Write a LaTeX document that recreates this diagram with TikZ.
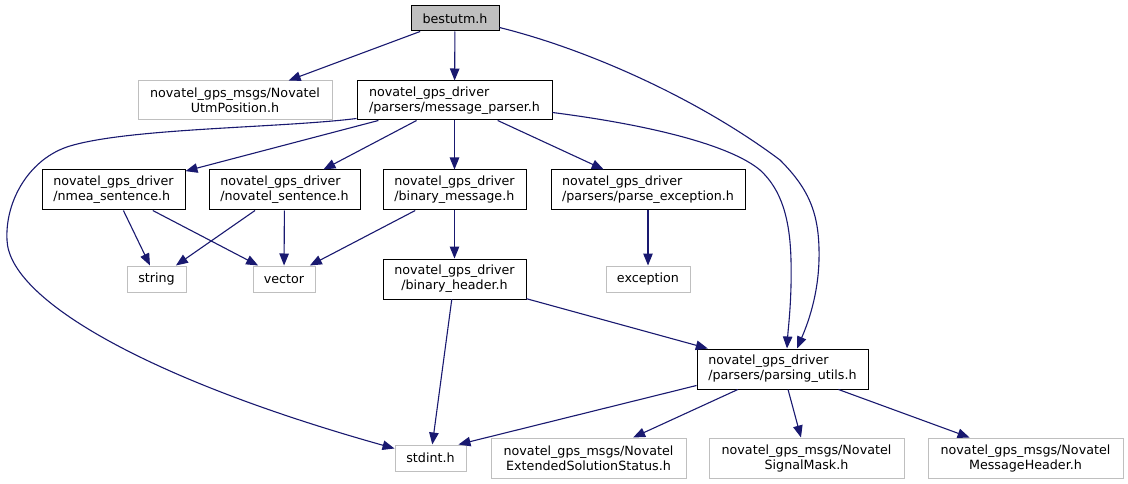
\documentclass[tikz,border=0pt]{standalone}
\usepackage{fontspec}
\setmainfont{DejaVu Sans}
\usetikzlibrary{arrows.meta,calc}
\definecolor{edgecol}{HTML}{191970}
\definecolor{graycol}{HTML}{BFBFBF}
\begin{document}
\begin{tikzpicture}[x=1pt,y=-1pt,
  every node/.style={font=\fontsize{12.7}{15}\selectfont, inner sep=0pt, line width=1pt},
  box/.style={draw=black, align=left},
  gbox/.style={draw=graycol, align=center},
  edge/.style={draw=edgecol, line width=1.1pt, -{Triangle[length=12pt,width=9.5pt]}, fill=none}]
\fill[white] (0,0) rectangle (1128,484);
\useasboundingbox (0,0) rectangle (1128,484);

\node[box, fill=graycol, minimum width=88pt, minimum height=25pt] (bestutm) at (455,18.5) {bestutm.h};
\node[gbox, minimum width=194pt, minimum height=39pt] (utm) at (235,100.5) {novatel\_gps\_msgs/Novatel\\UtmPosition.h};
\node[box, minimum width=195pt, minimum height=39pt] (mp) at (454.5,100.5) {novatel\_gps\_driver\\/parsers/message\_parser.h};
\node[box, minimum width=143pt, minimum height=40pt] (nmea) at (113.5,190) {novatel\_gps\_driver\\/nmea\_sentence.h};
\node[box, minimum width=151pt, minimum height=40pt] (novs) at (284.5,190) {novatel\_gps\_driver\\/novatel\_sentence.h};
\node[box, minimum width=143pt, minimum height=40pt] (binm) at (454.5,190) {novatel\_gps\_driver\\/binary\_message.h};
\node[box, minimum width=194pt, minimum height=40pt] (pexc) at (648,190) {novatel\_gps\_driver\\/parsers/parse\_exception.h};
\node[gbox, minimum width=59pt, minimum height=26pt] (string) at (156.5,279) {string};
\node[gbox, minimum width=62pt, minimum height=26pt] (vector) at (284,279) {vector};
\node[box, align=center, minimum width=143pt, minimum height=40pt] (binh) at (454.5,279) {novatel\_gps\_driver\\/binary\_header.h};
\node[gbox, minimum width=84pt, minimum height=26pt] (exc) at (648,279) {exception};
\node[box, minimum width=171pt, minimum height=40pt] (pu) at (782.5,369) {novatel\_gps\_driver\\/parsers/parsing\_utils.h};
\node[gbox, minimum width=71pt, minimum height=26pt] (stdint) at (430.5,458) {stdint.h};
\node[gbox, minimum width=195pt, minimum height=40pt] (ext) at (588.5,458) {novatel\_gps\_msgs/Novatel\\ExtendedSolutionStatus.h};
\node[gbox, minimum width=195pt, minimum height=40pt] (sig) at (806.5,458) {novatel\_gps\_msgs/Novatel\\SignalMask.h};
\node[gbox, minimum width=195pt, minimum height=40pt] (mh) at (1025.5,458) {novatel\_gps\_msgs/Novatel\\MessageHeader.h};

\draw[edge] (bestutm) -- (utm);
\draw[edge] (bestutm) -- (mp);
\draw[edge] ($(bestutm.south east)+(0,-4)$) .. controls (590,50) and (700,100) .. (780,160)
  .. controls (810,190) and (820,215) .. (819,260)
  .. controls (818,300) and (805,330) .. ($(pu.north)+(14.5,0)$);
\draw[edge] ($(mp.south east)+(0,-8)$) .. controls (650,125) and (730,145) .. (760,170)
  .. controls (782,190) and (790,220) .. (791,260)
  .. controls (792,300) and (788,330) .. ($(pu.north)+(4.5,0)$);
\draw[edge] ($(mp.south west)+(0,-2)$) .. controls (280,128) and (130,128) .. (70,146)
  .. controls (30,158) and (5,200) .. (7,240)
  .. controls (9,300) and (150,380) .. ($(stdint.north west)+(0,4)$);
\draw[edge] (mp) -- (nmea);
\draw[edge] (mp) -- (novs);
\draw[edge] (mp) -- (binm);
\draw[edge] (mp) -- (pexc);
\draw[edge] (nmea) -- (string);
\draw[edge] (nmea) -- (vector);
\draw[edge] (novs) -- (string);
\draw[edge] (novs) -- (vector);
\draw[edge] (binm) -- (vector);
\draw[edge] (binm) -- (binh);
\draw[edge] (pexc) -- (exc);
\draw[edge] (binh) -- (stdint);
\draw[edge] (binh) -- (pu);
\draw[edge] ($(pu.south west)+(0,-4)$) -- ($(stdint.north east)+(-8,0)$);
\draw[edge] (pu) -- (ext);
\draw[edge] (pu) -- (sig);
\draw[edge] (pu) -- (mh);
\end{tikzpicture}
\end{document}
